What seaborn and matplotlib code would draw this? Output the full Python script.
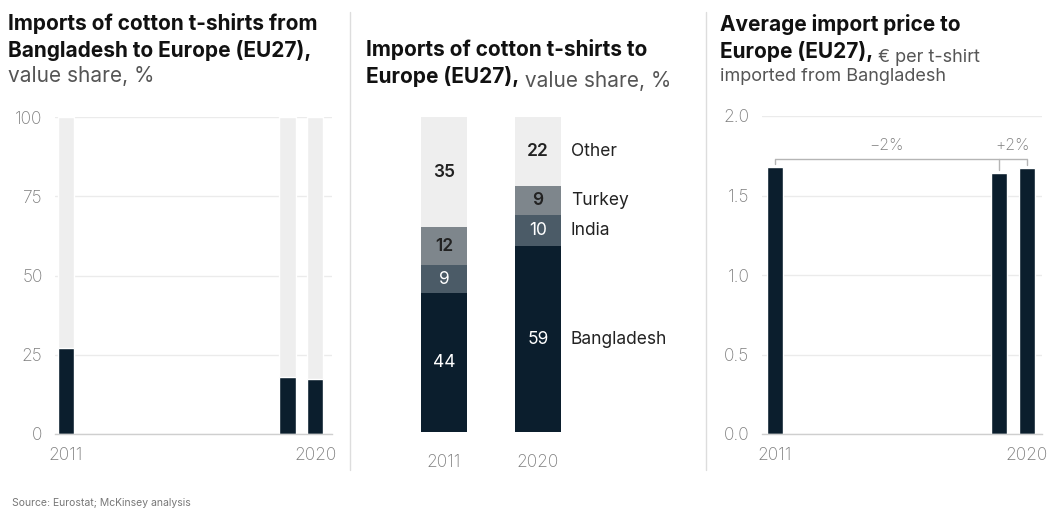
import numpy as np
import pandas as pd
import matplotlib
matplotlib.use("Agg")
import matplotlib.pyplot as plt
import seaborn as sns

# ---------------- data ----------------
years = list(range(2011, 2021))
share_years = [2011, 2019, 2020]
bd_share = [27, 18, 17.5]          # Bangladesh share of EU27 cotton t-shirt imports, %
full_share = [100, 100, 100]

stack_years = ["2011", "2020"]
countries = ["Bangladesh", "India", "Turkey", "Other"]
bangladesh = [44, 59]
india = [9, 10]
turkey = [12, 9]
other = [35, 22]

price_years = [2011, 2019, 2020]
price = [1.68, 1.64, 1.67]
price_changes = ["\u22122%", "+2%"]

# ---------------- style ----------------
sns.set_theme(style="white")
plt.rcParams["font.family"] = ["Inter", "DejaVu Sans"]

NAVY = "#0b1e2d"
SLATE = "#4b5b67"
GREY = "#7e868c"
LIGHT = "#eeeeee"
TICK = "#7c7c7c"
GRID = "#ebebeb"
TXT = "#222222"
TFS = 12.5  # tick font size

W, H = 1050, 512
fig = plt.figure(figsize=(W / 100, H / 100), dpi=100)


def ax_px(x0, x1, ytop, ybot):
    return fig.add_axes([x0 / W, 1 - ybot / H, (x1 - x0) / W, (ybot - ytop) / H])


def style_time_axis(ax, yticks, ylabels, ymax):
    ax.set_ylim(0, ymax)
    ax.set_yticks(yticks)
    ax.set_yticklabels(ylabels, color=TICK, fontsize=TFS, fontweight="light")
    ax.set_xticks(range(len(years)))
    ax.set_xticklabels(["2011"] + [""] * 8 + ["2020"], color=TICK, fontsize=TFS,
                       fontweight="light")
    for s in ["top", "right", "left"]:
        ax.spines[s].set_visible(False)
    ax.spines["bottom"].set_color("#cfcfcf")
    ax.spines["bottom"].set_linewidth(1)
    ax.tick_params(axis="x", length=4, width=0.8, color="#cfcfcf", pad=5, direction="out")
    ax.tick_params(axis="y", length=0, pad=9)
    ax.grid(axis="y", color=GRID, linewidth=1)
    ax.set_axisbelow(True)
    ax.set_xlabel("")
    ax.set_ylabel("")


# ---------------- left panel ----------------
axL = ax_px(55, 332, 117, 434)
dfL = pd.DataFrame({"year": share_years, "full": full_share, "share": bd_share})
sns.barplot(data=dfL, x="year", y="full", order=years, color=LIGHT, width=0.6,
            saturation=1, ax=axL, zorder=1)
sns.barplot(data=dfL, x="year", y="share", order=years, color=NAVY, width=0.6,
            saturation=1, ax=axL, zorder=2)
axL.set_xlim(-0.40, 9.61)
style_time_axis(axL, [0, 25, 50, 75, 100], ["0", "25", "50", "75", "100"], 100)

# ---------------- middle panel ----------------
axM = ax_px(380, 690, 117, 432)
dfM = pd.DataFrame({"year": stack_years, "Bangladesh": bangladesh, "India": india,
                    "Turkey": turkey, "Other": other})
seg_colors = {"Bangladesh": NAVY, "India": SLATE, "Turkey": GREY, "Other": LIGHT}
txt_colors = {"Bangladesh": "white", "India": "white", "Turkey": TXT, "Other": TXT}
bottom = np.zeros(len(stack_years))
for c in countries:
    sns.barplot(data=dfM, x="year", y=c, order=stack_years, color=seg_colors[c],
                width=0.48, saturation=1, ax=axM, bottom=bottom, linewidth=0)
    vals = dfM[c].to_numpy()
    for i, v in enumerate(vals):
        axM.text(i, bottom[i] + v / 2, f"{v}", ha="center", va="center",
                 color=txt_colors[c], fontsize=12.5,
                 fontweight="semibold" if c in ("Other", "Turkey") else "normal")
    axM.text(1 + 0.24 + 0.11, bottom[-1] + vals[-1] / 2, c, ha="left", va="center",
             color=TXT, fontsize=12.5)
    bottom = bottom + vals
axM.set_xlim(-0.68, 2.617)
axM.set_ylim(0, 100)
axM.set_yticks([])
axM.set_xticks([0, 1])
axM.set_xticklabels(stack_years, color=TICK, fontsize=TFS, fontweight="light")
axM.tick_params(axis="x", length=0, pad=16)
for s in axM.spines.values():
    s.set_visible(False)
axM.set_xlabel("")
axM.set_ylabel("")

# ---------------- right panel ----------------
axR = ax_px(762, 1042, 116, 434)
dfR = pd.DataFrame({"year": price_years, "price": price})
sns.barplot(data=dfR, x="year", y="price", order=years, color=NAVY, width=0.58,
            saturation=1, ax=axR, zorder=2)
axR.set_xlim(-0.46, 9.54)
style_time_axis(axR, [0, 0.5, 1.0, 1.5, 2.0], ["0.0", "0.5", "1.0", "1.5", "2.0"], 2.0)

# change brackets
yb = 1.73
idx = [years.index(y) for y in price_years]
axR.plot([idx[0], idx[2]], [yb, yb], color="#b5b5b5", lw=1, zorder=3, solid_capstyle="butt")
for i, v in zip(idx, price):
    axR.plot([i, i], [v + 0.02, yb], color="#b5b5b5", lw=1, zorder=3)
axR.text((idx[0] + idx[1]) / 2, yb + 0.04, price_changes[0], ha="center", va="bottom",
         color=TICK, fontsize=11.5, fontweight="light")
axR.text((idx[1] + idx[2]) / 2, yb + 0.04, price_changes[1], ha="center", va="bottom",
         color=TICK, fontsize=11.5, fontweight="light")

# ---------------- titles ----------------
def line(x, y, parts):
    last = None
    for txt, bold, size in parts:
        kw = dict(fontsize=size, fontweight="bold" if bold else "normal",
                  color="#111111" if bold else "#555555", va="baseline", ha="left")
        if last is None:
            last = fig.text(x / W, 1 - y / H, txt, **kw)
        else:
            last = axL.annotate(txt, xy=(1, 0), xycoords=last,
                                annotation_clip=False, **kw)

B = 15
line(8, 30, [("Imports of cotton t-shirts from", True, B)])
line(8, 57, [("Bangladesh to Europe (EU27),", True, B)])
line(8, 82, [("value share, %", False, B)])

line(366, 56, [("Imports of cotton t-shirts to", True, B)])
line(366, 83, [("Europe (EU27),", True, B), (" value share, %", False, B)])

line(720, 31, [("Average import price to", True, B)])
line(720, 58, [("Europe (EU27),", True, B), (" \u20ac per t-shirt", False, 13)])
line(720, 81, [("imported from Bangladesh", False, 13)])

# separators
for xs in (350, 706):
    fig.add_artist(plt.Line2D([xs / W, xs / W], [1 - 470 / H, 1 - 12 / H],
                              color="#dddddd", lw=1))

fig.text(12 / W, 1 - 506 / H, "Source: Eurostat; McKinsey analysis", fontsize=7.5,
         color="#777777", va="baseline")

fig.savefig("out.png", dpi=100, facecolor="white")
